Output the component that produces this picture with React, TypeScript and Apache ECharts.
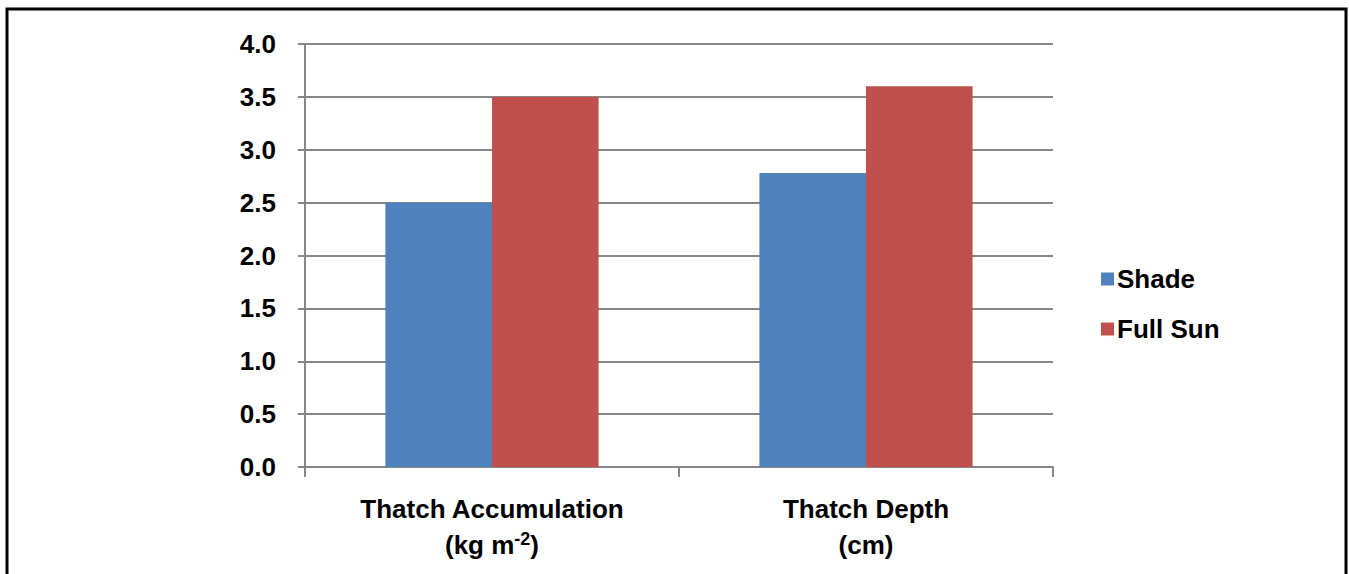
import React, { useEffect, useRef } from "react";
import * as echarts from "echarts";

const categories = ["Thatch Accumulation", "Thatch Depth"];
const units = ["kg m", "cm"];
const unitSup = ["-2", ""];
const shade = [2.5, 2.78];
const fullSun = [3.5, 3.6];
const seriesNames = ["Shade", "Full Sun"];

export default function App() {
  const ref = useRef<HTMLDivElement>(null);
  useEffect(() => {
    const chart = echarts.init(ref.current!, null, { renderer: "svg" });
    const font = "'Liberation Sans', Arial, sans-serif";
    chart.setOption({
      animation: false,
      textStyle: { fontFamily: font },
      graphic: [
        {
          type: "rect",
          shape: { x: 7, y: 9, width: 1339, height: 620 },
          style: { fill: "none", stroke: "#000", lineWidth: 3 },
          silent: true,
        },
      ],
      grid: { left: 305, right: 296, top: 44, bottom: 107 },
      legend: {
        orient: "vertical",
        left: 1096,
        top: 261,
        itemWidth: 13,
        itemHeight: 13,
        itemGap: 24,
        icon: "rect",
        data: seriesNames,
        textStyle: {
          fontSize: 26,
          fontWeight: "bold",
          color: "#000",
          fontFamily: font,
          lineHeight: 26,
          padding: [0, 0, 0, -2],
        },
      },
      xAxis: {
        type: "category",
        data: categories,
        axisLine: { lineStyle: { color: "#868686", width: 2 } },
        axisTick: { show: true, length: 10, lineStyle: { color: "#868686", width: 2 } },
        axisLabel: {
          margin: 24,
          interval: 0,
          formatter: (v: string) => {
            const i = categories.indexOf(v);
            const sup = unitSup[i] ? `{sup|${unitSup[i]}}` : "";
            return `{a|${v}}\n{a|(${units[i]}}${sup}{a|)}`;
          },
          rich: {
            a: { fontSize: 26, fontWeight: "bold", color: "#000", lineHeight: 36, fontFamily: font },
            sup: { fontSize: 18, fontWeight: "bold", color: "#000", lineHeight: 36, verticalAlign: "top", padding: [3, 0, 0, 0], fontFamily: font },
          },
        },
      },
      yAxis: {
        type: "value",
        min: 0,
        max: 4,
        interval: 0.5,
        axisLine: { show: true, lineStyle: { color: "#868686", width: 2 } },
        axisTick: { show: true, length: 7, lineStyle: { color: "#868686", width: 2 } },
        splitLine: { lineStyle: { color: "#868686", width: 2 } },
        axisLabel: {
          margin: 29,
          fontSize: 26,
          fontWeight: "bold",
          color: "#000",
          fontFamily: font,
          formatter: (v: number) => v.toFixed(1),
        },
      },
      series: [
        {
          name: seriesNames[0],
          type: "bar",
          data: shade,
          itemStyle: { color: "#4F81BD" },
          barGap: "0%",
          barCategoryGap: "43%",
        },
        {
          name: seriesNames[1],
          type: "bar",
          data: fullSun,
          itemStyle: { color: "#C0504D" },
          barGap: "0%",
          barCategoryGap: "43%",
        },
      ],
    });
    return () => chart.dispose();
  }, []);
  return (
    <div
      ref={ref}
      style={{ position: "absolute", left: 0, top: 0, width: 1349, height: 574, background: "#fff" }}
    />
  );
}
